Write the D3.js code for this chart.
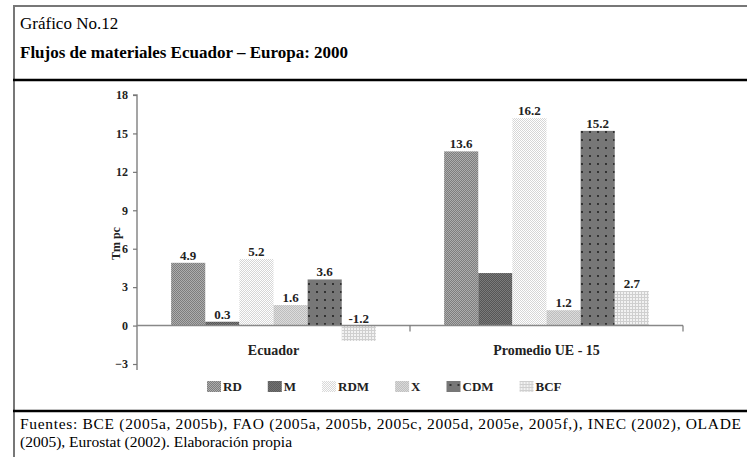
<!DOCTYPE html>
<html>
<head>
<meta charset="utf-8">
<script src="https://cdn.jsdelivr.net/npm/d3@7"></script>
<style>
body { margin: 0; background: #fff; }
svg text { font-family: "Liberation Serif", "Times New Roman", Times, "DejaVu Serif", serif !important; }
</style>
</head>
<body>
<svg id="chart" width="747" height="457"></svg>
<script>
// data
var categories = ["Ecuador", "Promedio UE - 15"];
var seriesNames = ["RD", "M", "RDM", "X", "CDM", "BCF"];
var ecuadorValues = [4.9, 0.3, 5.2, 1.6, 3.6, -1.2];
var ueValues = [13.6, 4.1, 16.2, 1.2, 15.2, 2.7];
var yTicks = [-3, 0, 3, 6, 9, 12, 15, 18];
var hiddenLabels = [["Promedio UE - 15", "M"]]; // no value printed in the original

document.addEventListener("DOMContentLoaded", init)

function init() {
	var svg = d3.select("#chart");
	var W = 747, H = 457;

	var table = categories.map((c, i) => ({
		cat: c,
		vals: seriesNames.map((s, j) => ({
			cat: c, key: s,
			v: (i == 0 ? ecuadorValues : ueValues)[j]
		}))
	}));

	// patterns for the grey fills
	var defs = svg.append("defs");
	function checker(id, a, b) {
		var p = defs.append("pattern").attr("id", id)
			.attr("width", 2).attr("height", 2)
			.attr("patternUnits", "userSpaceOnUse");
		p.append("rect").attr("width", 2).attr("height", 2).attr("fill", a);
		p.append("rect").attr("width", 1).attr("height", 1).attr("fill", b);
		p.append("rect").attr("x", 1).attr("y", 1).attr("width", 1).attr("height", 1).attr("fill", b);
	}
	checker("p-RD", "#7d7d7d", "#adadad");
	checker("p-M", "#555", "#7a7a7a");
	checker("p-RDM", "#fff", "#d6d6d6");
	checker("p-X", "#bdbdbd", "#dcdcdc");
	var pc = defs.append("pattern").attr("id", "p-CDM")
		.attr("width", 8).attr("height", 8)
		.attr("patternUnits", "userSpaceOnUse");
	pc.append("rect").attr("width", 8).attr("height", 8).attr("fill", "#777");
	pc.append("circle").attr("cx", 4).attr("cy", 4).attr("r", 0.9).attr("fill", "#111");
	var pb = defs.append("pattern").attr("id", "p-BCF")
		.attr("width", 3).attr("height", 3)
		.attr("patternUnits", "userSpaceOnUse");
	pb.append("rect").attr("width", 3).attr("height", 3).attr("fill", "#f2f2f2");
	pb.append("rect").attr("width", 3).attr("height", 1).attr("fill", "#cfcfcf");
	pb.append("rect").attr("width", 1).attr("height", 3).attr("fill", "#cfcfcf");

	// frame
	svg.append("line").attr("x1", 13).attr("x2", W).attr("y1", 6).attr("y2", 6)
		.attr("stroke", "#777").attr("stroke-width", 2);
	svg.append("line").attr("x1", 14).attr("x2", 14).attr("y1", 5).attr("y2", H)
		.attr("stroke", "#777").attr("stroke-width", 2);
	[80, 411].forEach(y => {
		svg.append("line").attr("x1", 13).attr("x2", W).attr("y1", y).attr("y2", y)
			.attr("stroke", "#000").attr("stroke-width", 2.5);
	});

	svg.append("text").attr("x", 20).attr("y", 29)
		.style("font-size", "17px").text("Gráfico No.12");
	svg.append("text").attr("x", 20).attr("y", 58)
		.style("font-size", "17px").style("font-weight", "bold")
		.text("Flujos de materiales Ecuador – Europa: 2000");

	// scales
	var x0 = d3.scaleBand().domain(categories).range([137, 683]).paddingInner(0).paddingOuter(0);
	var x1 = d3.scaleBand().domain(seriesNames).range([0, x0.bandwidth()]).paddingOuter(1.0).paddingInner(0);
	var y = d3.scaleLinear().domain([-3, 18]).range([364, 95]);

	// y axis
	var gy = svg.append("g").attr("transform", "translate(137,0)")
		.call(d3.axisLeft(y).tickValues(yTicks).tickSize(4).tickFormat(d3.format("d")));
	gy.select(".domain").attr("stroke", "#888").attr("stroke-width", 1.5)
		.attr("d", "M-4," + y(18) + "H0V" + (y(-3) + 6));
	gy.selectAll(".tick line").attr("stroke", "#777").attr("stroke-width", 1.2);
	gy.selectAll(".tick text").attr("x", -9)
		.style("font-size", "12px")
		.style("font-weight", "bold").attr("fill", "#222");

	svg.append("text")
		.attr("transform", "translate(120," + y(6.4) + ") rotate(-90)")
		.attr("text-anchor", "middle")
		.style("font-size", "12px").style("font-weight", "bold").attr("fill", "#222")
		.text("Tm pc");

	// bars
	var groups = svg.selectAll(".cat").data(table).enter().append("g")
		.attr("class", "cat")
		.attr("transform", d => "translate(" + x0(d.cat) + ",0)");
	groups.selectAll("rect").data(d => d.vals).enter().append("rect")
		.attr("x", d => x1(d.key))
		.attr("width", x1.bandwidth())
		.attr("y", d => y(Math.max(0, d.v)))
		.attr("height", d => Math.abs(y(d.v) - y(0)))
		.attr("fill", d => "url(#p-" + d.key + ")");
	groups.selectAll(".lbl").data(d => d.vals.filter(v =>
			!hiddenLabels.some(h => h[0] == v.cat && h[1] == v.key)))
		.enter().append("text").attr("class", "lbl")
		.attr("x", d => x1(d.key) + x1.bandwidth() / 2)
		.attr("y", d => y(Math.max(0, d.v)) - 3)
		.attr("text-anchor", "middle")
		.style("font-size", "13px").style("font-weight", "bold").attr("fill", "#222")
		.text(d => d3.format(".1f")(d.v).replace("−", "-"));

	// zero line with category ticks
	var gx = svg.append("g").attr("transform", "translate(0," + y(0) + ")")
		.call(d3.axisBottom(x0).tickSize(0));
	gx.select(".domain").attr("stroke", "#888").attr("stroke-width", 1.5)
		.attr("d", "M137,0H683");
	gx.selectAll(".tick text").attr("y", 19)
		.style("font-size", "14px")
		.style("font-weight", "bold").attr("fill", "#222");
	[x0(categories[1]), 683].forEach(xx => {
		gx.append("line").attr("x1", xx).attr("x2", xx).attr("y1", 0).attr("y2", 6)
			.attr("stroke", "#777").attr("stroke-width", 1.2);
	});

	// legend
	var legend = svg.append("g").attr("transform", "translate(207,381)");
	var lx = 0;
	seriesNames.forEach(s => {
		var g = legend.append("g").attr("transform", "translate(" + lx + ",0)");
		g.append("rect").attr("width", 14).attr("height", 11).attr("fill", "url(#p-" + s + ")");
		var t = g.append("text").attr("x", 16).attr("y", 10)
			.style("font-size", "13px").style("font-weight", "bold").attr("fill", "#222")
			.text(s);
		lx += 16 + t.node().getComputedTextLength() + 26;
	});

	// source (first line justified to the box width)
	svg.append("text").attr("x", 20).attr("y", 429)
		.attr("textLength", 721).attr("lengthAdjust", "spacing")
		.style("font-size", "15.5px")
		.text("Fuentes: BCE (2005a, 2005b), FAO (2005a, 2005b, 2005c, 2005d, 2005e, 2005f,), INEC (2002), OLADE");
	svg.append("text").attr("x", 20).attr("y", 447)
		.style("font-size", "15.5px")
		.text("(2005), Eurostat (2002). Elaboración propia");
}
</script>
</body>
</html>
